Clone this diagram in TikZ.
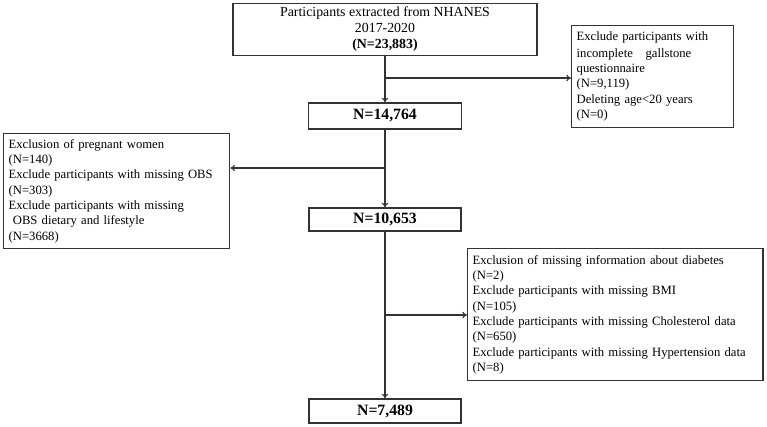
\documentclass[tikz,border=0pt]{standalone}
\usepackage{fontspec}
\setmainfont{Liberation Serif}
\usetikzlibrary{arrows.meta}
\begin{document}
\begin{tikzpicture}[x=0.75pt,y=-0.75pt,
  box/.style={draw=black!80, line width=0.9pt, inner sep=0pt, font=\fontsize{9.5pt}{11.5pt}\selectfont},
  nbox/.style={box, font=\fontsize{11.8pt}{13pt}\selectfont\bfseries},
  lbox/.style={box, align=left, inner xsep=3.8pt, anchor=north west},
  arr/.style={draw=black!80, line width=0.8pt, -{To[length=3.5pt,width=5pt]}}]
\useasboundingbox (0,0) rectangle (767,427);
\node[box, align=center, minimum width=228pt, minimum height=39pt, font=\fontsize{10.4pt}{12pt}\selectfont] (top) at (385,29.5)
  {Participants extracted from NHANES\\2017-2020\\\textbf{(N=23,883)}};
\node[nbox, minimum width=114.75pt, minimum height=19.5pt] (a) at (385,116) {N=14,764};
\node[nbox, minimum width=114pt, minimum height=17.25pt] (b) at (385,219.5) {N=10,653};
\node[nbox, minimum width=114pt, minimum height=18pt] (c) at (385,411) {N=7,489};
\node[lbox, text width=114pt, minimum height=76.5pt] (r1) at (571,25)
  {\vspace{1pt}Exclude participants with\\incomplete\ \ \ gallstone\\questionnaire\\(N=9,119)\\Deleting age<20 years\\(N=0)};
\node[lbox, text width=162pt, minimum height=86.25pt] (l1) at (3,133)
  {Exclusion of pregnant women\\(N=140)\\Exclude participants with missing OBS\\(N=303)\\Exclude participants with missing\\\ OBS dietary and lifestyle\\(N=3668)};
\node[lbox, text width=214pt, minimum height=99pt] (r2) at (467,248)
  {Exclusion of missing information about diabetes\\(N=2)\\Exclude participants with missing BMI\\(N=105)\\Exclude participants with missing Cholesterol data\\(N=650)\\Exclude participants with missing Hypertension data\\(N=8)};
\coordinate (b1) at (385,78);
\coordinate (b2) at (385,168);
\coordinate (b3) at (385,315);
\draw[arr] (top) -- (a);
\draw[arr] (b1) -- (r1.west |- b1);
\draw[arr] (a) -- (b);
\draw[arr] (b2) -- (l1.east |- b2);
\draw[arr] (b) -- (c);
\draw[arr] (b3) -- (r2.west |- b3);
\end{tikzpicture}
\end{document}
